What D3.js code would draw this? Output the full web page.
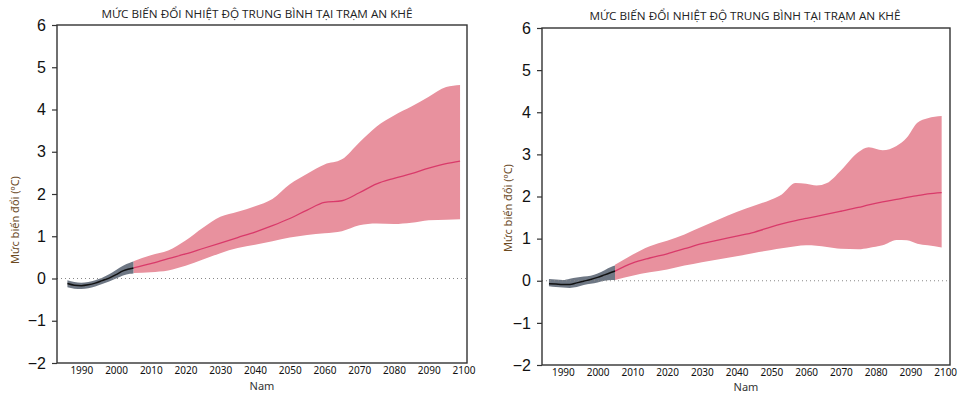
<!DOCTYPE html>
<html>
<head>
<meta charset="utf-8">
<script src="https://cdn.jsdelivr.net/npm/d3@7"></script>
<style>
body { margin: 0; background: #fff; }
svg { display: block; }
.ytick text { font-family: "Liberation Sans", Arial, sans-serif; font-size: 16px; fill: #111; }
.xtick text { font-family: "Noto Sans", sans-serif; font-size: 10px; fill: #111; }
</style>
</head>
<body>
<div id="chart"></div>
<script>

// historical period (same years for both panels)
const histYears = [1986, 1988, 1990, 1992, 1994, 1996, 1998, 2000, 2002, 2004, 2005]

// left panel
const leftHistMean = [-0.12, -0.16, -0.17, -0.15, -0.11, -0.05, 0.01, 0.09, 0.18, 0.23, 0.25]
const leftHistHi   = [-0.04, -0.08, -0.10, -0.08, -0.04, 0.02, 0.10, 0.20, 0.30, 0.37, 0.40]
const leftHistLo   = [-0.21, -0.24, -0.25, -0.23, -0.19, -0.13, -0.07, 0.00, 0.07, 0.11, 0.12]

const leftFutYears = [2005, 2010, 2015, 2020, 2025, 2030, 2035, 2040, 2045, 2050, 2055, 2060, 2065, 2070, 2075, 2080, 2085, 2090, 2095, 2099]
const leftFutMean  = [0.25, 0.35, 0.47, 0.58, 0.71, 0.84, 0.97, 1.10, 1.25, 1.42, 1.62, 1.80, 1.84, 2.03, 2.24, 2.37, 2.48, 2.61, 2.72, 2.78]
const leftFutHi    = [0.41, 0.55, 0.66, 0.90, 1.20, 1.46, 1.58, 1.71, 1.88, 2.23, 2.48, 2.70, 2.82, 3.22, 3.60, 3.86, 4.07, 4.30, 4.53, 4.58]
const leftFutLo    = [0.13, 0.15, 0.19, 0.30, 0.45, 0.60, 0.72, 0.80, 0.88, 0.97, 1.03, 1.07, 1.12, 1.26, 1.30, 1.29, 1.32, 1.38, 1.39, 1.40]

// right panel
const rightHistMean = [-0.07, -0.08, -0.09, -0.09, -0.05, -0.01, 0.03, 0.08, 0.14, 0.20, 0.23]
const rightHistHi   = [0.04, 0.03, 0.02, 0.05, 0.08, 0.10, 0.12, 0.17, 0.25, 0.33, 0.36]
const rightHistLo   = [-0.13, -0.15, -0.16, -0.17, -0.15, -0.10, -0.07, -0.04, 0.00, 0.02, 0.02]

const rightFutYears = [2005, 2010, 2015, 2020, 2025, 2030, 2035, 2040, 2045, 2050, 2053, 2057, 2060, 2063, 2066, 2070, 2075, 2078, 2082, 2086, 2089, 2092, 2095, 2099]
const rightFutMean  = [0.23, 0.42, 0.54, 0.64, 0.76, 0.88, 0.97, 1.06, 1.15, 1.28, 1.35, 1.43, 1.48, 1.53, 1.58, 1.65, 1.74, 1.80, 1.87, 1.93, 1.98, 2.02, 2.06, 2.09]
const rightFutHi    = [0.38, 0.62, 0.82, 0.95, 1.10, 1.28, 1.46, 1.63, 1.78, 1.93, 2.05, 2.32, 2.30, 2.26, 2.32, 2.62, 3.05, 3.17, 3.10, 3.20, 3.40, 3.75, 3.86, 3.91]
const rightFutLo    = [0.02, 0.12, 0.20, 0.27, 0.36, 0.44, 0.51, 0.58, 0.66, 0.73, 0.77, 0.82, 0.84, 0.83, 0.80, 0.76, 0.75, 0.78, 0.84, 0.97, 0.96, 0.88, 0.84, 0.79]

const yTicks = [-2, -1, 0, 1, 2, 3, 4, 5, 6]
const xTicks = [1990, 2000, 2010, 2020, 2030, 2040, 2050, 2060, 2070, 2080, 2090, 2100]

const titleText = "MỨC BIẾN ĐỔI NHIỆT ĐỘ TRUNG BÌNH TẠI TRẠM AN KHÊ"
const yLabel = "Mức biến đổi (ºC)"
const xLabel = "Nam"

const W = 958, H = 394

const svg = d3.select('#chart').append('svg').attr("width", W).attr("height", H)

function zip(years, a, b) {
    return years.map((y, i) => ({year: y, v: a[i], v2: b ? b[i] : null}))
}

function drawPanel(p) {

    const x = d3.scaleLinear().domain(p.xDomain).range([p.left, p.right])
    const y = d3.scaleLinear().domain([-2, 6]).range([p.bottom, p.top])

    const g = svg.append('g')

    const area = d3.area()
        .x(d => x(d.year))
        .y0(d => y(d.v2))
        .y1(d => y(d.v))
        .curve(d3.curveMonotoneX)

    const line = d3.line()
        .x(d => x(d.year))
        .y(d => y(d.v))
        .curve(d3.curveMonotoneX)

    // future band
    g.append('path')
        .datum(zip(p.futYears, p.futHi, p.futLo))
        .attr("d", area)
        .attr("fill", "#e8919e")

    // historical band
    g.append('path')
        .datum(zip(histYears, p.histHi, p.histLo))
        .attr("d", area)
        .attr("fill", "#6e7784")

    // zero line
    g.append('line')
        .attr("x1", p.left)
        .attr("x2", p.right)
        .attr("y1", y(0))
        .attr("y2", y(0))
        .attr("stroke", "#888")
        .attr("stroke-width", 1)
        .attr("stroke-dasharray", "1 3")

    g.append('path')
        .datum(zip(p.futYears, p.futMean))
        .attr("d", line)
        .attr("fill", "none")
        .attr("stroke", "#d93a6a")
        .attr("stroke-width", 1.3)

    g.append('path')
        .datum(zip(histYears, p.histMean))
        .attr("d", line)
        .attr("fill", "none")
        .attr("stroke", "#111")
        .attr("stroke-width", 1.5)

    // frame
    g.append('rect')
        .attr("x", p.left)
        .attr("y", p.top)
        .attr("width", p.right - p.left)
        .attr("height", p.bottom - p.top)
        .attr("fill", "none")
        .attr("stroke", "#333")
        .attr("stroke-width", 1.4)

    const axisLeft = d3.axisLeft(y).tickValues(yTicks).tickSize(5).tickPadding(6)
    g.append('g')
        .attr("class", "ytick")
        .attr("transform", `translate(${p.left},0)`)
        .call(axisLeft)
        .call(s => s.select(".domain").remove())
        .call(s => s.selectAll(".tick line").attr("stroke", "#333").attr("stroke-width", 1.2))

    const axisBottom = d3.axisBottom(x).tickValues(xTicks).tickSize(0).tickPadding(4).tickFormat(d3.format("d"))
    g.append('g')
        .attr("class", "xtick")
        .attr("transform", `translate(0,${p.bottom})`)
        .call(axisBottom)
        .select(".domain").remove()

    // texts
    g.append('text')
        .attr("x", p.titleX)
        .attr("y", p.titleY)
        .attr("text-anchor", "middle")
        .attr("font-family", "Open Sans, sans-serif")
        .attr("font-size", 11.5)
        .attr("textLength", 311)
        .attr("lengthAdjust", "spacingAndGlyphs")
        .attr("fill", "#222")
        .text(titleText)

    g.append('text')
        .attr("transform", `translate(${p.ylabX},${p.ylabY}) rotate(-90)`)
        .attr("text-anchor", "middle")
        .attr("dy", "0.35em")
        .attr("font-family", "Noto Sans, sans-serif")
        .attr("font-size", 11)
        .attr("fill", "#6b4a1f")
        .text(yLabel)

    g.append('text')
        .attr("x", (p.left + p.right) / 2)
        .attr("y", p.xlabY)
        .attr("text-anchor", "middle")
        .attr("font-family", "Noto Sans, sans-serif")
        .attr("font-size", 11)
        .attr("fill", "#333")
        .text(xLabel)
}

drawPanel({
    left: 57, right: 467, top: 25, bottom: 363, xDomain: [1983, 2101],
    histMean: leftHistMean, histHi: leftHistHi, histLo: leftHistLo,
    futYears: leftFutYears, futMean: leftFutMean, futHi: leftFutHi, futLo: leftFutLo,
    titleX: 257, titleY: 17.5, ylabX: 15, ylabY: 220, xlabY: 390
})

drawPanel({
    left: 542, right: 950, top: 28, bottom: 365, xDomain: [1984, 2101.4],
    histMean: rightHistMean, histHi: rightHistHi, histLo: rightHistLo,
    futYears: rightFutYears, futMean: rightFutMean, futHi: rightFutHi, futLo: rightFutLo,
    titleX: 745, titleY: 19.5, ylabX: 508, ylabY: 208, xlabY: 391
})

</script>
</body>
</html>
